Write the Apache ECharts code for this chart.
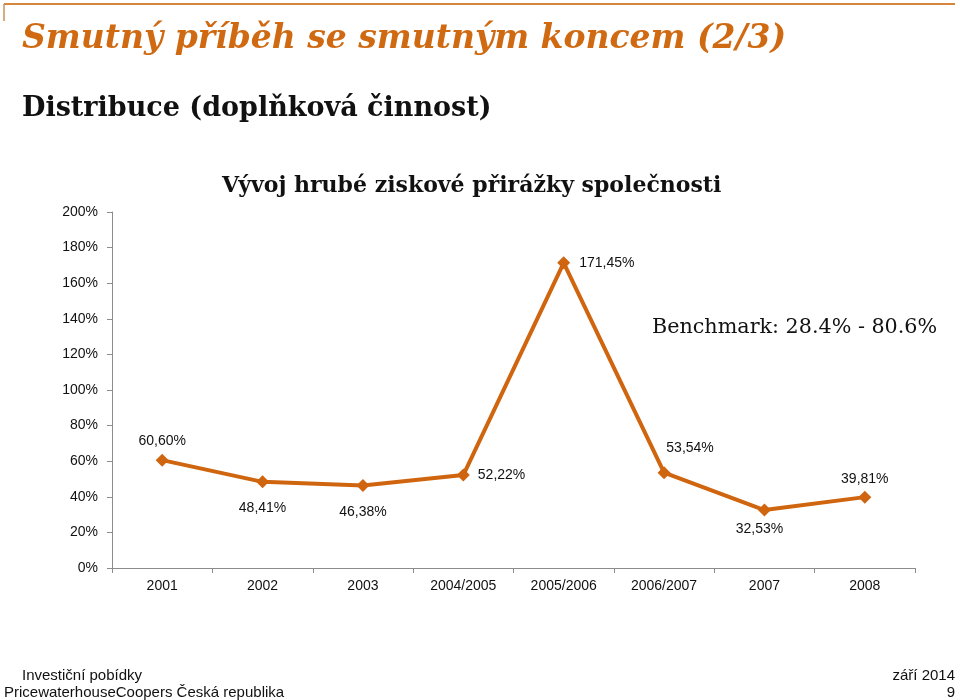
<!DOCTYPE html>
<html>
<head>
<meta charset="utf-8">
<script src="https://cdn.jsdelivr.net/npm/echarts@6/dist/echarts.min.js"></script>
<style>
html,body{margin:0;padding:0;background:#fff;}
#c{width:960px;height:700px;}
</style>
</head>
<body>
<div id="c"></div>
<script>
const categories = ['2001','2002','2003','2004/2005','2005/2006','2006/2007','2007','2008'];
const values = [60.60, 48.41, 46.38, 52.22, 171.45, 53.54, 32.53, 39.81];
const valueLabels = ['60,60%','48,41%','46,38%','52,22%','171,45%','53,54%','32,53%','39,81%'];
const yTicks = [0, 20, 40, 60, 80, 100, 120, 140, 160, 180, 200];

// label layout (styling only)
const labelLayout = [
  {position:'top',distance:5},
  {position:'bottom',distance:13},
  {position:'bottom',distance:13},
  {position:'right',distance:8},
  {position:'right',distance:9},
  {position:'top',distance:11,offset:[26,0]},
  {position:'bottom',distance:6,offset:[-5,0]},
  {position:'top',distance:4}
];

const ORANGE = '#D0650F';
const chart = echarts.init(document.getElementById('c'), null, {renderer:'canvas'});

const data = values.map((v,i)=>({
  value:v,
  label:Object.assign({show:true,formatter:valueLabels[i]}, labelLayout[i])
}));

chart.setOption({
  animation:false,
  grid:{left:112,right:45,top:212,bottom:132,containLabel:false},
  xAxis:{
    type:'category',
    data:categories,
    boundaryGap:true,
    axisLine:{lineStyle:{color:'#8c8c8c',width:1}},
    axisTick:{show:true,interval:0,length:5,lineStyle:{color:'#8c8c8c'}},
    axisLabel:{color:'#111',fontFamily:'Liberation Sans, Arial, sans-serif',fontSize:14,margin:11,interval:0}
  },
  yAxis:{
    type:'value',
    min:yTicks[0],
    max:yTicks[yTicks.length-1],
    interval:20,
    axisLine:{show:true,lineStyle:{color:'#8c8c8c',width:1}},
    axisTick:{show:true,length:5,lineStyle:{color:'#8c8c8c'}},
    splitLine:{show:false},
    axisLabel:{color:'#111',fontFamily:'Liberation Sans, Arial, sans-serif',fontSize:14,margin:14,formatter:'{value}%'}
  },
  series:[{
    type:'line',
    data:data,
    symbol:'diamond',
    symbolSize:13,
    lineStyle:{color:ORANGE,width:4},
    itemStyle:{color:ORANGE},
    label:{color:'#111',fontFamily:'Liberation Sans, Arial, sans-serif',fontSize:14}
  }],
  graphic:[
    {type:'line',shape:{x1:4,y1:4,x2:955,y2:4},style:{stroke:'#D7873D',lineWidth:2}},
    {type:'line',shape:{x1:4,y1:4,x2:4,y2:21},style:{stroke:'#C9925A',lineWidth:1.5}},
    {type:'text',left:22,top:23,style:{text:'Smutný příběh se smutným koncem (2/3)',fill:'#D06A12',font:'italic bold 33px "DejaVu Serif", Georgia, serif'}},
    {type:'text',left:22,top:95,style:{text:'Distribuce (doplňková činnost)',fill:'#111',font:'bold 27px "DejaVu Serif", Georgia, serif'}},
    {type:'text',left:222,top:175,style:{text:'Vývoj hrubé ziskové přirážky společnosti',fill:'#111',font:'bold 22px "DejaVu Serif", Georgia, serif'}},
    {type:'text',left:652,top:317,style:{text:'Benchmark: 28.4% - 80.6%',fill:'#111',font:'20.7px "DejaVu Serif", Georgia, serif'}},
    {type:'text',left:22,top:668,style:{text:'Investiční pobídky',fill:'#111',font:'15px "Liberation Sans Narrow", "Arial Narrow", sans-serif'}},
    {type:'text',left:4,top:685,style:{text:'PricewaterhouseCoopers Česká republika',fill:'#111',font:'15px "Liberation Sans Narrow", "Arial Narrow", sans-serif'}},
    {type:'text',right:5,top:668,style:{text:'září 2014',fill:'#111',font:'15px "Liberation Sans Narrow", "Arial Narrow", sans-serif',align:'right'}},
    {type:'text',right:5,top:685,style:{text:'9',fill:'#111',font:'15px "Liberation Sans Narrow", "Arial Narrow", sans-serif',align:'right'}}
  ]
});
</script>
</body>
</html>
